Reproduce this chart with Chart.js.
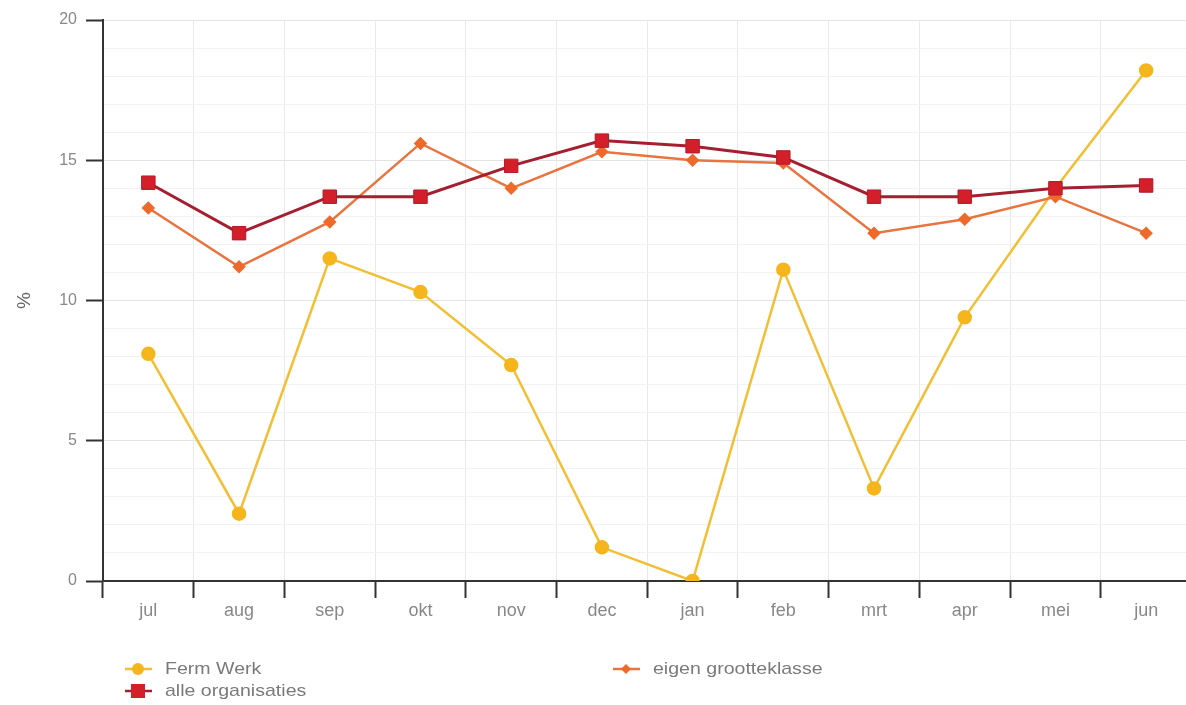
<!DOCTYPE html>
<html>
<head>
<meta charset="utf-8">
<script src="https://cdn.jsdelivr.net/npm/chart.js@4/dist/chart.umd.min.js"></script>
<style>
  html, body { margin:0; padding:0; background:#fff; overflow:hidden; width:1186px; height:705px; }
  #wrap { position:absolute; left:0; top:0; width:1202px; height:705px; }
  #legend { position:absolute; left:0; top:0; width:1186px; height:705px; pointer-events:none;
            font-family:"Liberation Sans", Arial, sans-serif; font-size:17px; color:#7a7a7a; }
  .li { position:absolute; display:flex; align-items:center; height:22px; white-space:nowrap; }
  .li svg { margin-right:13px; }
  .li span { display:inline-block; transform:scaleX(1.15); transform-origin:left center; }
</style>
</head>
<body>
<div id="wrap"><canvas id="c" width="1202" height="705"></canvas></div>
<div id="legend"></div>
<script>
const categories = ["jul","aug","sep","okt","nov","dec","jan","feb","mrt","apr","mei","jun"];
const fermWerk = [8.1, 2.4, 11.5, 10.3, 7.7, 1.2, 0.0, 11.1, 3.3, 9.4, 14.0, 18.2];
const eigenGrootteklasse = [13.3, 11.2, 12.8, 15.6, 14.0, 15.3, 15.0, 14.9, 12.4, 12.9, 13.7, 12.4];
const alleOrganisaties = [14.2, 12.4, 13.7, 13.7, 14.8, 15.7, 15.5, 15.1, 13.7, 13.7, 14.0, 14.1];
const seriesNames = ["Ferm Werk", "eigen grootteklasse", "alle organisaties"];
const yMin = 0, yMax = 20, yMajorStep = 5, yMinorStep = 1;
const yTitle = "%";

const FONT = '"Liberation Sans", Arial, sans-serif';

const datasets = [
  { label: seriesNames[0], data: fermWerk, borderColor:'#f2bf34', backgroundColor:'#f5b51c',
    pointBackgroundColor:'#f5b51c', pointBorderColor:'#f5b51c', pointStyle:'circle', pointRadius:6,
    borderWidth:2.5, order:3, tension:0 },
  { label: seriesNames[1], data: eigenGrootteklasse, borderColor:'#e9743f', backgroundColor:'#ee6a2a',
    pointBackgroundColor:'#ee6a2a', pointBorderColor:'#ee6a2a', pointStyle:'rectRot', pointRadius:5,
    borderWidth:2.5, order:2, tension:0 },
  { label: seriesNames[2], data: alleOrganisaties, borderColor:'#a41f30', backgroundColor:'#d21f2a',
    pointBackgroundColor:'#d21f2a', pointBorderColor:'#b01c2a', pointStyle:'rect', pointRadius:9.5,
    pointBorderWidth:1, borderWidth:3, order:1, tension:0 }
];

new Chart(document.getElementById('c'), {
  type:'line',
  data:{ labels: categories, datasets },
  options:{
    responsive:false, animation:false,
    layout:{ padding:{ left:0, top:20, right:0, bottom:84 } },
    plugins:{ legend:{ display:false }, tooltip:{ enabled:false } },
    scales:{
      x:{
        offset:true,
        grid:{ offset:true, color:'#e9e9e9', lineWidth:1, tickLength:17, tickColor:'#333', tickWidth:2 },
        border:{ color:'#333', width:2 },
        ticks:{ color:'#888', font:{ family:FONT, size:18 }, padding:2 },
        afterFit: s => { s.height = 40; }
      },
      y:{
        min:yMin, max:yMax,
        grid:{
          color: c => (c.tick && c.tick.value % yMajorStep === 0) ? '#e3e3e3' : '#f2f2f2',
          tickColor: c => (c.tick && c.tick.value % yMajorStep === 0) ? '#333' : 'rgba(0,0,0,0)',
          tickLength:17, tickWidth:2
        },
        border:{ color:'#333', width:2 },
        ticks:{ stepSize:yMinorStep, autoSkip:false, color:'#888', font:{ family:FONT, size:16 }, padding:9,
          callback: v => (v % yMajorStep === 0) ? String(v) : '' },
        title:{ display:true, text:yTitle, color:'#666', font:{ family:FONT, size:19 }, padding:{top:13,bottom:0} },
        afterFit: s => { s.width = 103; }
      }
    }
  }
});

// HTML legend in two columns
const legendPos = [ {x:125, y:658}, {x:613, y:658}, {x:125, y:680} ];
const leg = document.getElementById('legend');
datasets.forEach((d, i) => {
  const p = legendPos[i];
  let marker = '';
  if (d.pointStyle === 'circle') marker = `<circle cx="13" cy="11" r="6" fill="${d.pointBackgroundColor}"/>`;
  else if (d.pointStyle === 'rectRot') marker = `<polygon points="13,6 18,11 13,16 8,11" fill="${d.pointBackgroundColor}"/>`;
  else marker = `<rect x="6" y="4" width="14" height="14" fill="${d.pointBackgroundColor}"/>`;
  const el = document.createElement('div');
  el.className = 'li';
  el.style.left = p.x + 'px'; el.style.top = p.y + 'px';
  el.innerHTML = `<svg width="27" height="22"><line x1="0" y1="11" x2="27" y2="11" stroke="${d.borderColor}" stroke-width="2.5"/>${marker}</svg><span>${d.label}</span>`;
  leg.appendChild(el);
});
</script>
</body>
</html>
